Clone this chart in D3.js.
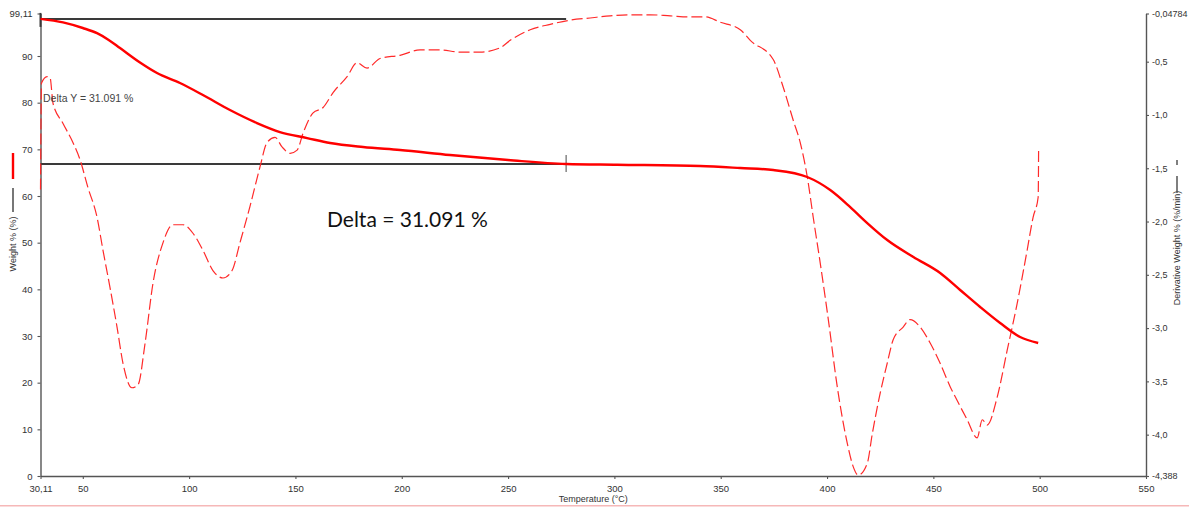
<!DOCTYPE html>
<html>
<head>
<meta charset="utf-8">
<script src="https://cdn.jsdelivr.net/npm/d3@7"></script>
<style>
  html, body { margin: 0; padding: 0; background: #fff; }
  svg { display: block; }
</style>
</head>
<body>
<svg id="chart" width="1189" height="508"></svg>
<script>
// TGA run: weight loss (solid) and its derivative (dashed) versus temperature

const weightTemp = [30.11, 40.7, 50.0, 56.7, 62.0, 67.5, 76.9, 84.9, 95.7, 106.5, 119.2, 131.9, 142.7, 155.5,
  166.3, 181.8, 199.2, 222.7, 250.0, 277.3, 301.3, 340.3, 359.2, 374.7, 390.7, 401.5, 410.9,
  418.9, 428.3, 440.6, 453.2, 462.6, 472.0, 481.4, 490.8, 499.3];
const weightPct = [97.95, 97.20, 96.00, 94.90, 93.50, 91.70, 88.60, 86.35, 84.21, 81.64, 78.42, 75.63, 73.70, 72.42,
  71.35, 70.49, 69.85, 68.78, 67.71, 66.86, 66.70, 66.43, 66.00, 65.57, 64.07, 61.28, 57.63,
  54.21, 50.57, 46.93, 43.50, 39.86, 36.22, 32.78, 29.78, 28.50];

const derivTemp = [30.11, 30.6, 33.2, 34.6, 36.0, 40.7, 45.4, 48.7, 52.4, 56.7, 59.5, 62.8, 66.1, 68.9,
  73.1, 76.0, 79.3, 83.0, 87.7, 92.4, 97.1, 101.8, 106.5, 111.2, 115.9, 120.2, 123.9, 128.6,
  133.3, 136.6, 140.4, 143.7, 147.5, 150.8, 153.6, 158.3, 163.0, 167.7, 174.3, 179.0, 183.7,
  189.8, 199.2, 208.6, 218.0, 227.4, 236.8, 246.2, 251.0, 260.4, 269.8, 279.2, 288.6, 298.0,
  307.5, 316.9, 326.3, 335.7, 342.8, 349.8, 359.2, 363.9, 374.7, 379.4, 384.1, 387.4, 390.7,
  393.5, 396.8, 400.6, 404.8, 409.5, 412.3, 414.7, 418.9, 421.3, 425.0, 428.3, 431.1, 435.8,
  439.1, 443.8, 448.5, 453.2, 457.9, 461.2, 465.9, 470.6, 473.0, 475.3, 480.0, 484.7, 489.4,
  494.1, 496.9, 499.3, 499.5];
const derivValue = [-1.70, -0.70, -0.64, -0.65, -0.89, -1.08, -1.26, -1.42, -1.68, -1.96, -2.27, -2.62,
  -2.99, -3.33, -3.56, -3.53, -3.14, -2.58, -2.20, -2.03, -2.03, -2.11, -2.27, -2.46, -2.53,
  -2.46, -2.20, -1.86, -1.49, -1.26, -1.21, -1.30, -1.36, -1.33, -1.17, -0.98, -0.93, -0.79,
  -0.64, -0.51, -0.56, -0.47, -0.44, -0.39, -0.39, -0.41, -0.41, -0.37, -0.30, -0.20, -0.15,
  -0.11, -0.09, -0.07, -0.06, -0.06, -0.07, -0.08, -0.08, -0.13, -0.20, -0.30, -0.48, -0.74,
  -1.05, -1.26, -1.58, -1.96, -2.39, -2.92, -3.55, -4.08, -4.30, -4.38, -4.27, -3.99, -3.61,
  -3.33, -3.11, -2.99, -2.92, -2.99, -3.14, -3.33, -3.55, -3.68, -3.86, -4.03, -3.86, -3.91,
  -3.65, -3.21, -2.77, -2.27, -1.96, -1.77, -1.31];

const xTicks = [30.11, 50, 100, 150, 200, 250, 300, 350, 400, 450, 500, 550];
const leftTicks = [0, 10, 20, 30, 40, 50, 60, 70, 80, 90, 99.11];
const rightTicks = [-4.388, -4.0, -3.5, -3.0, -2.5, -2.0, -1.5, -1.0, -0.5, -0.04784];

// Step analysis cursor: start and end weight of the first mass-loss step
const stepTop = 97.950;
const stepBottom = 66.859;
const stepStartTemp = 30.11;
const stepEndTemp = 277.3;

const svg = d3.select('#chart');
const W = 1189, H = 508;

const x = d3.scaleLinear().domain([30.11, 550]).range([40.5, 1146]);
const yL = d3.scaleLinear().domain([0, 99.11]).range([476, 13.5]);
const yR = d3.scaleLinear().domain([-4.388, -0.04784]).range([476, 13.5]);

const comma = v => String(v).replace('.', ',');
const rightFmt = v => (Number.isInteger(v * 2) ? v.toFixed(1) : String(v)).replace('.', ',');

const tickFont = '"Liberation Sans", Arial, sans-serif';

function styleAxis(g, size) {
  g.select('.domain').attr('stroke', '#555').attr('stroke-width', 1.4);
  g.selectAll('.tick line').attr('stroke', '#555').attr('stroke-width', 1.1);
  g.selectAll('.tick text').attr('fill', '#333').style('font-family', tickFont).style('font-size', (size || 9.5) + 'px');
}

svg.append('g').attr('transform', 'translate(0,476)')
  .call(d3.axisBottom(x).tickValues(xTicks).tickFormat(comma).tickSize(3).tickSizeOuter(0).tickPadding(6))
  .call(styleAxis);

svg.append('g').attr('transform', 'translate(40.5,0)')
  .call(d3.axisLeft(yL).tickValues(leftTicks).tickFormat(comma).tickSize(3).tickSizeOuter(0).tickPadding(5))
  .call(styleAxis);

svg.append('g').attr('transform', 'translate(1146,0)')
  .call(d3.axisRight(yR).tickValues(rightTicks).tickFormat(rightFmt).tickSize(3).tickSizeOuter(0).tickPadding(3))
  .call(g => styleAxis(g, 9));

// Axis titles and line keys
svg.append('text')
  .attr('x', (x.range()[0] + x.range()[1]) / 2).attr('y', 502)
  .attr('text-anchor', 'middle')
  .style('font-family', tickFont).style('font-size', '9px').attr('fill', '#333')
  .text('Temperature (°C)');

svg.append('text')
  .attr('transform', 'translate(13,244) rotate(-90)')
  .attr('text-anchor', 'middle').attr('dominant-baseline', 'central')
  .style('font-family', tickFont).style('font-size', '9px').attr('fill', '#333')
  .text('Weight % (%)');
svg.append('line').attr('x1', 13).attr('x2', 13).attr('y1', 153).attr('y2', 179)
  .attr('stroke', '#ff0000').attr('stroke-width', 2.4);
svg.append('line').attr('x1', 13).attr('x2', 13).attr('y1', 188).attr('y2', 212)
  .attr('stroke', '#777').attr('stroke-width', 2);

svg.append('text')
  .attr('transform', 'translate(1177,248) rotate(-90)')
  .attr('text-anchor', 'middle').attr('dominant-baseline', 'central')
  .style('font-family', tickFont).style('font-size', '9px').attr('fill', '#333')
  .text('Derivative Weight % (%/min)');
svg.append('line').attr('x1', 1177).attr('x2', 1177).attr('y1', 160).attr('y2', 165)
  .attr('stroke', '#555').attr('stroke-width', 1.5);
svg.append('line').attr('x1', 1177).attr('x2', 1177).attr('y1', 176).attr('y2', 193)
  .attr('stroke', '#555').attr('stroke-width', 1.5);

// Step cursor lines
const cursor = svg.append('g').attr('stroke', '#3a3a3a');
cursor.append('line')
  .attr('x1', x(stepStartTemp)).attr('x2', x(stepEndTemp))
  .attr('y1', yL(stepTop)).attr('y2', yL(stepTop)).attr('stroke-width', 2);
cursor.append('line')
  .attr('x1', x(stepStartTemp)).attr('x2', x(stepEndTemp))
  .attr('y1', yL(stepBottom)).attr('y2', yL(stepBottom)).attr('stroke-width', 2);
cursor.append('line')
  .attr('x1', x(stepEndTemp)).attr('x2', x(stepEndTemp))
  .attr('y1', yL(stepBottom) - 9).attr('y2', yL(stepBottom) + 8)
  .attr('stroke', '#666').attr('stroke-width', 1.2);
cursor.append('line')
  .attr('x1', x(stepStartTemp)).attr('x2', x(stepStartTemp))
  .attr('y1', yL(stepTop) - 6).attr('y2', yL(stepTop) + 8).attr('stroke-width', 2);

// Derivative curve (right axis)
const derivLine = d3.line()
  .x((d, i) => x(derivTemp[i]))
  .y(d => yR(d))
  .curve(d3.curveMonotoneX);
svg.append('path')
  .attr('d', derivLine(derivValue))
  .attr('fill', 'none')
  .attr('stroke', '#ff2a2a')
  .attr('stroke-width', 1.2)
  .attr('stroke-dasharray', '11,4');

// Weight curve (left axis)
const weightLine = d3.line()
  .x((d, i) => x(weightTemp[i]))
  .y(d => yL(d))
  .curve(d3.curveMonotoneX);
svg.append('path')
  .attr('d', weightLine(weightPct))
  .attr('fill', 'none')
  .attr('stroke', '#ff0000')
  .attr('stroke-width', 2.4);

// Step annotations
const delta = (stepTop - stepBottom).toFixed(3);
svg.append('text')
  .attr('x', 43).attr('y', 101.5)
  .style('font-family', tickFont).style('font-size', '10.5px').attr('fill', '#444')
  .text('Delta Y = ' + delta + ' %');
svg.append('text')
  .attr('x', 327).attr('y', 227.3)
  .style('font-family', 'Lato, "Open Sans", sans-serif').style('font-size', '21px').attr('fill', '#111')
  .text('Delta = ' + delta + ' %');

// Thin frame line along the bottom edge
svg.append('line').attr('x1', 0).attr('x2', W).attr('y1', 505.7).attr('y2', 505.7)
  .attr('stroke', '#f6b8b8').attr('stroke-width', 1.5);
</script>
</body>
</html>
